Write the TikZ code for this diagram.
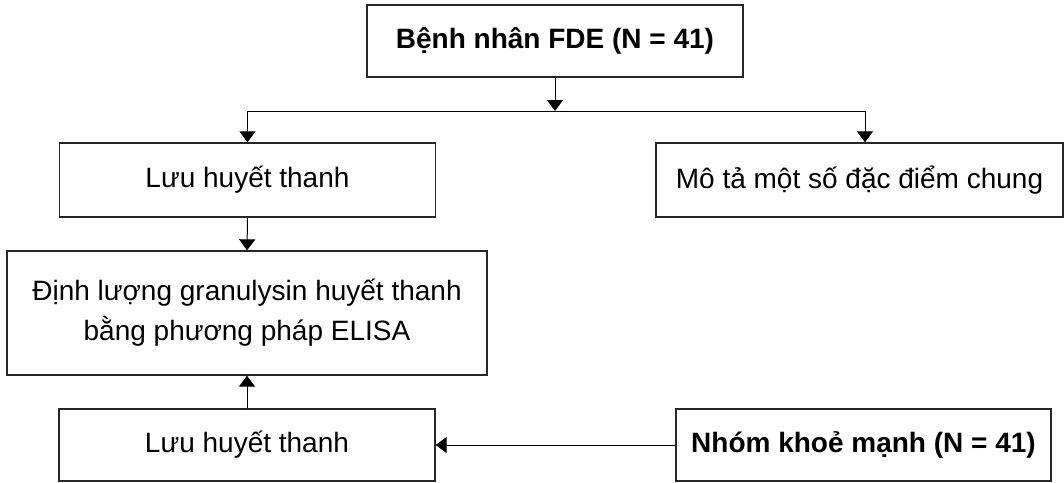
\documentclass[tikz,border=0pt]{standalone}
\usepackage{fontspec}
\setmainfont{Liberation Sans}
\usetikzlibrary{arrows.meta}
\begin{document}
\begin{tikzpicture}[x=1pt,y=-1pt,
  box/.style={draw=black!85,line width=1.3pt,inner sep=0pt,align=center,
    font=\fontsize{28}{40}\selectfont},
  boldbox/.style={box,font=\fontsize{28}{40}\selectfont\bfseries},
  arr/.style={line width=1pt,-{Triangle[width=16pt,length=11pt]}}]
\useasboundingbox (0,0) rectangle (1064,482);
\node[boldbox,minimum width=376pt,minimum height=72pt] (top) at (555,41) {Bệnh nhân FDE (N = 41)};
\node[box,minimum width=376pt,minimum height=74pt] (luu1) at (247.5,180) {Lưu huyết thanh};
\node[box,minimum width=407pt,minimum height=74pt] (mota) at (859.5,180) {Mô tả một số đặc điểm chung};
\node[box,minimum width=480pt,minimum height=124pt] (dinh) at (247,313) {Định lượng granulysin huyết thanh\\bằng phương pháp ELISA};
\node[box,minimum width=376pt,minimum height=72pt] (luu2) at (247,445) {Lưu huyết thanh};
\node[boldbox,minimum width=375pt,minimum height=72pt] (nhom) at (863.5,445) {Nhóm khoẻ mạnh (N = 41)};
\coordinate (split) at (555,111);
\coordinate (rdrop) at (865,111);
\draw[arr] (top.south) -- (split);
\draw[line width=1pt] (split) -- (rdrop);
\draw[arr] (split) -| (luu1.north);
\draw[arr] (rdrop) -- (rdrop |- mota.north);
\draw[arr] (luu1.south) -- (dinh.north);
\draw[arr] (luu2.north) -- (dinh.south);
\draw[arr] (nhom.west) -- (luu2.east);
\end{tikzpicture}
\end{document}
